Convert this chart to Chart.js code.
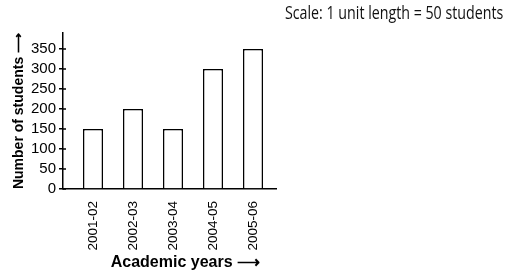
<!DOCTYPE html>
<html><head><meta charset="utf-8">
<script src="https://cdn.jsdelivr.net/npm/chart.js@4/dist/chart.umd.min.js"></script>
<style>
html,body{margin:0;padding:0;background:#fff;}
#wrap{position:relative;width:518px;height:275px;}
#scale{position:absolute;right:15px;top:0px;font-family:"Open Sans";font-size:18px;color:#111;white-space:nowrap;transform:scaleX(0.79);transform-origin:right top;}
</style></head>
<body><div id="wrap"><canvas id="c" width="518" height="275"></canvas><div id="scale">Scale: 1 unit length = 50 students</div></div>
<script>
const categories = ['2001-02','2002-03','2003-04','2004-05','2005-06'];
const students = [150, 200, 150, 300, 350];
const yTicks = [0, 50, 100, 150, 200, 250, 300, 350];

// category i is placed at the centre of its 2-unit slot on a unit grid
const pos = i => 1.5 + 2 * i;

const crossTicks = {
  id: 'crossTicks',
  afterDraw(chart) {
    const y = chart.scales.y, ctx = chart.ctx, x0 = chart.chartArea.left;
    ctx.save(); ctx.strokeStyle = '#000'; ctx.lineWidth = 1.5;
    yTicks.forEach(v => { const p = y.getPixelForValue(v); ctx.beginPath(); ctx.moveTo(x0, p); ctx.lineTo(x0 + 3, p); ctx.stroke(); });
    ctx.restore();
  }
};

new Chart(document.getElementById('c'), {
  type: 'bar',
  data: {
    datasets: [{
      data: categories.map((c, i) => ({x: pos(i), y: students[i]})),
      backgroundColor: '#fff', borderColor: '#000', borderWidth: 1.5,
      barPercentage: 0.5, categoryPercentage: 1
    }]
  },
  options: {
    responsive: false, animation: false,
    layout: {padding: {top: 33, right: 242, bottom: 0, left: 0}},
    plugins: {legend: {display: false}, tooltip: {enabled: false}},
    scales: {
      x: {
        type: 'linear', min: 0, max: 10.65, offset: false,
        grid: {display: false, offset: false},
        border: {display: true, color: '#000', width: 1.5},
        afterBuildTicks: s => { s.ticks = categories.map((c, i) => ({value: pos(i)})); },
        afterFit: s => { s.height = 86; },
        ticks: {
          autoSkip: false, minRotation: 90, maxRotation: 90, padding: 4,
          color: '#000', font: {family: 'Liberation Sans', size: 13.5},
          callback: v => categories[Math.round((v - 1.5) / 2)]
        },
        title: {display: true, text: 'Academic years \u27F6\u2003', align: 'end', color: '#000',
          font: {family: 'Liberation Sans', size: 16, weight: 'bold'}, padding: {top: 0, bottom: 3}}
      },
      y: {
        type: 'linear', min: 0, max: 390,
        afterBuildTicks: s => { s.ticks = yTicks.map(v => ({value: v})); },
        afterFit: s => { s.width = 63; },
        grid: {drawOnChartArea: false, tickLength: 4, color: '#000', lineWidth: 1.5},
        border: {display: true, color: '#000', width: 1.5},
        ticks: {padding: 3, color: '#000', font: {family: 'Liberation Sans', size: 15}},
        title: {display: true, text: 'Number of students \u27F6', color: '#000',
          font: {family: 'Liberation Sans', size: 14, weight: 'bold'}, padding: {top: 11, bottom: 0}}
      }
    }
  },
  plugins: [crossTicks]
});
</script></body></html>
